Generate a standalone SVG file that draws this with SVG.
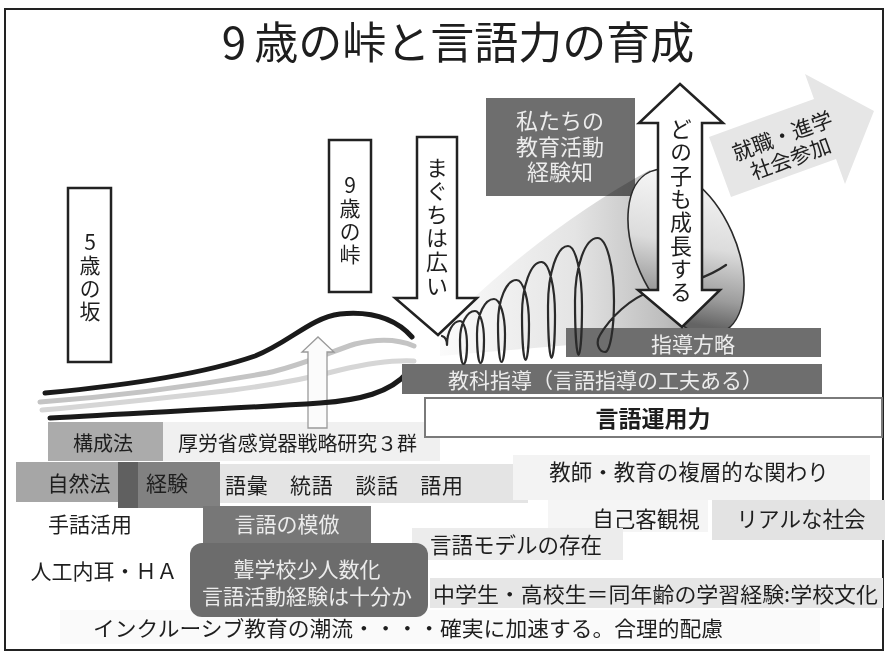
<svg xmlns="http://www.w3.org/2000/svg" width="888" height="655" viewBox="0 0 888 655">
  <style>
    .t { font-family: "Noto Sans CJK JP", "Noto Sans", sans-serif; dominant-baseline: central; text-anchor: middle; fill: #1e1e1e; }
    .ts { text-anchor: start; }
    .v { writing-mode: vertical-rl; text-orientation: upright; }
    .lt { fill: #ececec; }
    .vbox { fill: #ffffff; stroke: #222222; stroke-width: 2.5; }
    .dark { fill: #6e6e6e; }
    .curve { fill: none; stroke-linecap: round; stroke-linejoin: round; stroke-width: 5; }
    .strip { stroke: none; }
  </style>
  <defs>
    <linearGradient id="coneGrad" gradientUnits="userSpaceOnUse" x1="440" y1="0" x2="740" y2="0">
      <stop offset="0" stop-color="#fbfbfb"/>
      <stop offset="0.45" stop-color="#e4e4e4"/>
      <stop offset="0.75" stop-color="#bdbdbd"/>
      <stop offset="1" stop-color="#8c8c8c"/>
    </linearGradient>
    <linearGradient id="mouthGrad" gradientUnits="userSpaceOnUse" x1="628" y1="210" x2="744" y2="290">
      <stop offset="0" stop-color="#f4f4f4"/>
      <stop offset="0.45" stop-color="#dcdcdc"/>
      <stop offset="0.8" stop-color="#9c9c9c"/>
      <stop offset="1" stop-color="#646464"/>
    </linearGradient>
  </defs>

  <!-- frame -->
  <rect x="5" y="9" width="878" height="641" fill="#ffffff" stroke="#222222" stroke-width="2"/>

  <!-- title -->
  <text id="title" class="t" x="458" y="40" font-size="44" fill="#222"><tspan>9</tspan><tspan dx="8">歳の峠と言語力の育成</tspan></text>

  <!-- pale background strips behind labels -->
  <g id="strips" class="strip">
    <rect x="163" y="422" width="277" height="39" fill="#f0f0f0"/>
    <rect x="220" y="464" width="308" height="39" fill="#e4e4e4"/>
    <rect x="513" y="455" width="357" height="45" fill="#f3f3f3"/>
    <rect x="548" y="500" width="160" height="32" fill="#f5f5f5"/>
    <rect x="60" y="610" width="760" height="34" fill="#fafafa"/>
  </g>

  <!-- growth curves and the small upward arrow -->
  <g id="curves">
    <path class="curve" stroke="#c4c4c4" d="M40 402 C120 396 200 385 267 373 C300 366 330 352 355 344 C380 338 400 340 414 346"/>
    <path class="curve" stroke="#d6d6d6" d="M42 410 C120 403 180 396 233 390 C280 384 310 378 340 370 C370 363 395 360 414 361"/>
    <polygon id="up-arrow" points="308,428 308,352 302,352 318,337 334,352 327,352 327,428" fill="#fbfbfb" stroke="#9a9a9a" stroke-width="1.3"/>
    <path class="curve" stroke="#1a1a1a" d="M45 393 C120 386 200 375 255 356 C290 342 310 318 340 314 C370 311 395 318 412 337"/>
    <path class="curve" stroke="#1a1a1a" d="M50 418 C130 413 230 409 320 403 C360 400 390 393 408 372"/>
  </g>

  <!-- vertical label boxes -->
  <g id="node-5sai">
    <rect class="vbox" x="68" y="188" width="43" height="174"/>
    <text class="t v" x="90" y="278" font-size="21" letter-spacing="2">5歳の坂</text>
  </g>
  <g id="node-9sai">
    <rect class="vbox" x="329" y="140" width="42" height="152"/>
    <text class="t v" x="350" y="221" font-size="21" letter-spacing="2">9歳の峠</text>
  </g>

  <!-- experience box -->
  <g id="node-keikenchi">
    <rect class="dark" x="486" y="98" width="149" height="98"/>
    <text class="t lt" font-size="22"><tspan x="560" y="119">私たちの</tspan><tspan x="560" y="145">教育活動</tspan><tspan x="560" y="170">経験知</tspan></text>
  </g>

  <!-- megaphone cone and mouth -->
  <g id="node-cone">
    <path d="M440 330 Q540 230 650 170 L722 332 L440 356 Z" fill="url(#coneGrad)" style="mix-blend-mode:multiply"/>
    <ellipse cx="686" cy="252" rx="88" ry="50" transform="rotate(66 686 252)" fill="url(#mouthGrad)" stroke="#2a2a2a" stroke-width="1.6"/>
  </g>

  <!-- teaching bars -->
  <g id="node-kyouka">
    <rect class="dark" x="402" y="364" width="420" height="30"/>
    <text class="t lt ts" x="448" y="379" font-size="21" textLength="315" lengthAdjust="spacingAndGlyphs">教科指導（言語指導の工夫ある）</text>
  </g>
  <g id="node-houryaku">
    <rect class="dark" x="566" y="328" width="255" height="29"/>
    <text class="t lt" x="693" y="343" font-size="21">指導方略</text>
  </g>

  <!-- coil spring -->
  <path id="spring" fill="none" stroke="#2a2a2a" stroke-width="2.2" stroke-linejoin="round" stroke-linecap="round"
    d="M442 336 C445 337 447 340 447 345
       C447 331.8 453 321 460 321 C464 321 467 331.8 467 345 C467 355.5 465.4 364 463.5 364 C461.6 364 460 353.2 460 340
       C460 324 466.8 311 475 311 C480 311 484 324 484 340 C484 352.7 482.4 363 480.5 363 C478.6 363 477 350 477 334
       C477 314.8 484.7 299 494 299 C500 299 505 314.8 505 334 C505 349.4 503.4 362 501.5 362 C499.6 362 498 344.9 498 324
       C498 299.8 506.3 280 516.5 280 C523.4 280 529 299.8 529 324 C529 343.8 527.4 360 525.5 360 C523.6 360 522 339.8 522 315
       C522 285.9 530.8 262 541.5 262 C548.9 262 555 285.9 555 315 C555 338.7 553.4 358 551.5 358 C549.6 358 548 334.6 548 306
       C548 273 557 246 568 246 C575.7 246 582 273 582 306 C582 333 580.4 355 578.5 355 C576.6 355 575 330.7 575 301
       C575 266.4 585.1 238 597.5 238 C606.6 238 614 266.4 614 301 C614 329 610 352 605 352
       C599 352 595 343 600 335 C610 318 630 298 652 291 C672 285 700 283 726 265"/>

  <!-- big arrows -->
  <g id="node-maguchi">
    <polygon class="vbox" points="417,137 457,137 457,298 477,298 438,335 395,298 417,298"/>
    <text class="t v" x="437" y="227" font-size="22" letter-spacing="1.6">まぐちは広い</text>
  </g>
  <g id="node-seichou">
    <polygon class="vbox" points="680,84 723,123 702,123 702,290 720,290 682,327 638,290 658,290 658,123 639,123"/>
    <text class="t v" x="681" y="211" font-size="22" letter-spacing="1.3">どの子も成長する</text>
  </g>
  <g id="node-shakai">
    <polygon points="709,137 814,99 805,74 874,111 845,184 836,159 731,197" fill="#e6e6e6"/>
    <g transform="translate(786 146) rotate(-20)">
      <text class="t" x="0" y="-12" font-size="21">就職・進学</text>
      <text class="t" x="0" y="12" font-size="21">社会参加</text>
    </g>
  </g>

  <!-- language use -->
  <g id="node-gengounyou">
    <rect x="425" y="398" width="457" height="39" fill="#ffffff" stroke="#7a7a7a" stroke-width="2"/>
    <text class="t" x="653" y="417" font-size="23" font-weight="bold">言語運用力</text>
  </g>

  <!-- method boxes -->
  <g id="node-kouseihou">
    <rect x="48" y="422" width="115" height="39" fill="#ababab"/>
    <text class="t" x="103" y="442" font-size="20">構成法</text>
  </g>
  <g id="node-kourou">
    <text class="t ts" x="178" y="442" font-size="20" textLength="239" lengthAdjust="spacingAndGlyphs">厚労省感覚器戦略研究３群</text>
  </g>
  <g id="node-shizenhou">
    <rect x="16" y="462" width="104" height="40" fill="#a6a6a6"/>
    <text class="t" x="79" y="482" font-size="21">自然法</text>
  </g>
  <g id="node-keiken">
    <rect x="118" y="462" width="102" height="46" fill="#818181"/>
    <rect x="118" y="462" width="20" height="46" fill="#606060"/>
    <text class="t" x="167" y="482" font-size="21" fill="#e2e2e2">経験</text>
  </g>
  <g id="node-goi">
    <text class="t ts" x="225" y="484" font-size="21" textLength="238" lengthAdjust="spacing">語彙　統語　談話　語用</text>
  </g>
  <g id="node-kyoushi">
    <text class="t" x="689" y="470" font-size="21.5">教師・教育の複層的な関わり</text>
  </g>
  <g id="node-shuwa">
    <text class="t" x="90" y="523" font-size="21">手話活用</text>
  </g>
  <g id="node-jinkounaiji">
    <text class="t" x="104" y="570" font-size="21">人工内耳・ＨＡ</text>
  </g>
  <g id="node-mohou">
    <rect x="203" y="506" width="168" height="44" fill="#777777"/>
    <text class="t lt" x="287" y="523" font-size="21">言語の模倣</text>
  </g>
  <g id="node-jikokyakkan">
    <text class="t" x="646" y="517" font-size="21.5">自己客観視</text>
  </g>
  <g id="node-real">
    <rect x="712" y="500" width="173" height="40" fill="#e3e3e3"/>
    <text class="t" x="801" y="517" font-size="21.5">リアルな社会</text>
  </g>
  <g id="node-model">
    <rect x="412" y="528" width="211" height="32" fill="#ececec"/>
    <text class="t" x="516" y="543" font-size="21.5">言語モデルの存在</text>
  </g>
  <g id="node-rougakkou">
    <rect x="190" y="543" width="238" height="74" rx="12" ry="12" fill="#6c6c6c"/>
    <text class="t lt" font-size="21"><tspan x="307" y="568">聾学校少人数化</tspan><tspan x="307" y="595">言語活動経験は十分か</tspan></text>
  </g>
  <g id="node-chuugaku">
    <rect x="430" y="578" width="453" height="30" fill="#e6e6e6"/>
    <text class="t ts" x="433" y="593" font-size="21" textLength="445" lengthAdjust="spacingAndGlyphs">中学生・高校生＝同年齢の学習経験:学校文化</text>
  </g>
  <g id="node-inclusive">
    <text class="t ts" x="93" y="627" font-size="21" textLength="630" lengthAdjust="spacingAndGlyphs">インクルーシブ教育の潮流・・・・確実に加速する。合理的配慮</text>
  </g>
</svg>
